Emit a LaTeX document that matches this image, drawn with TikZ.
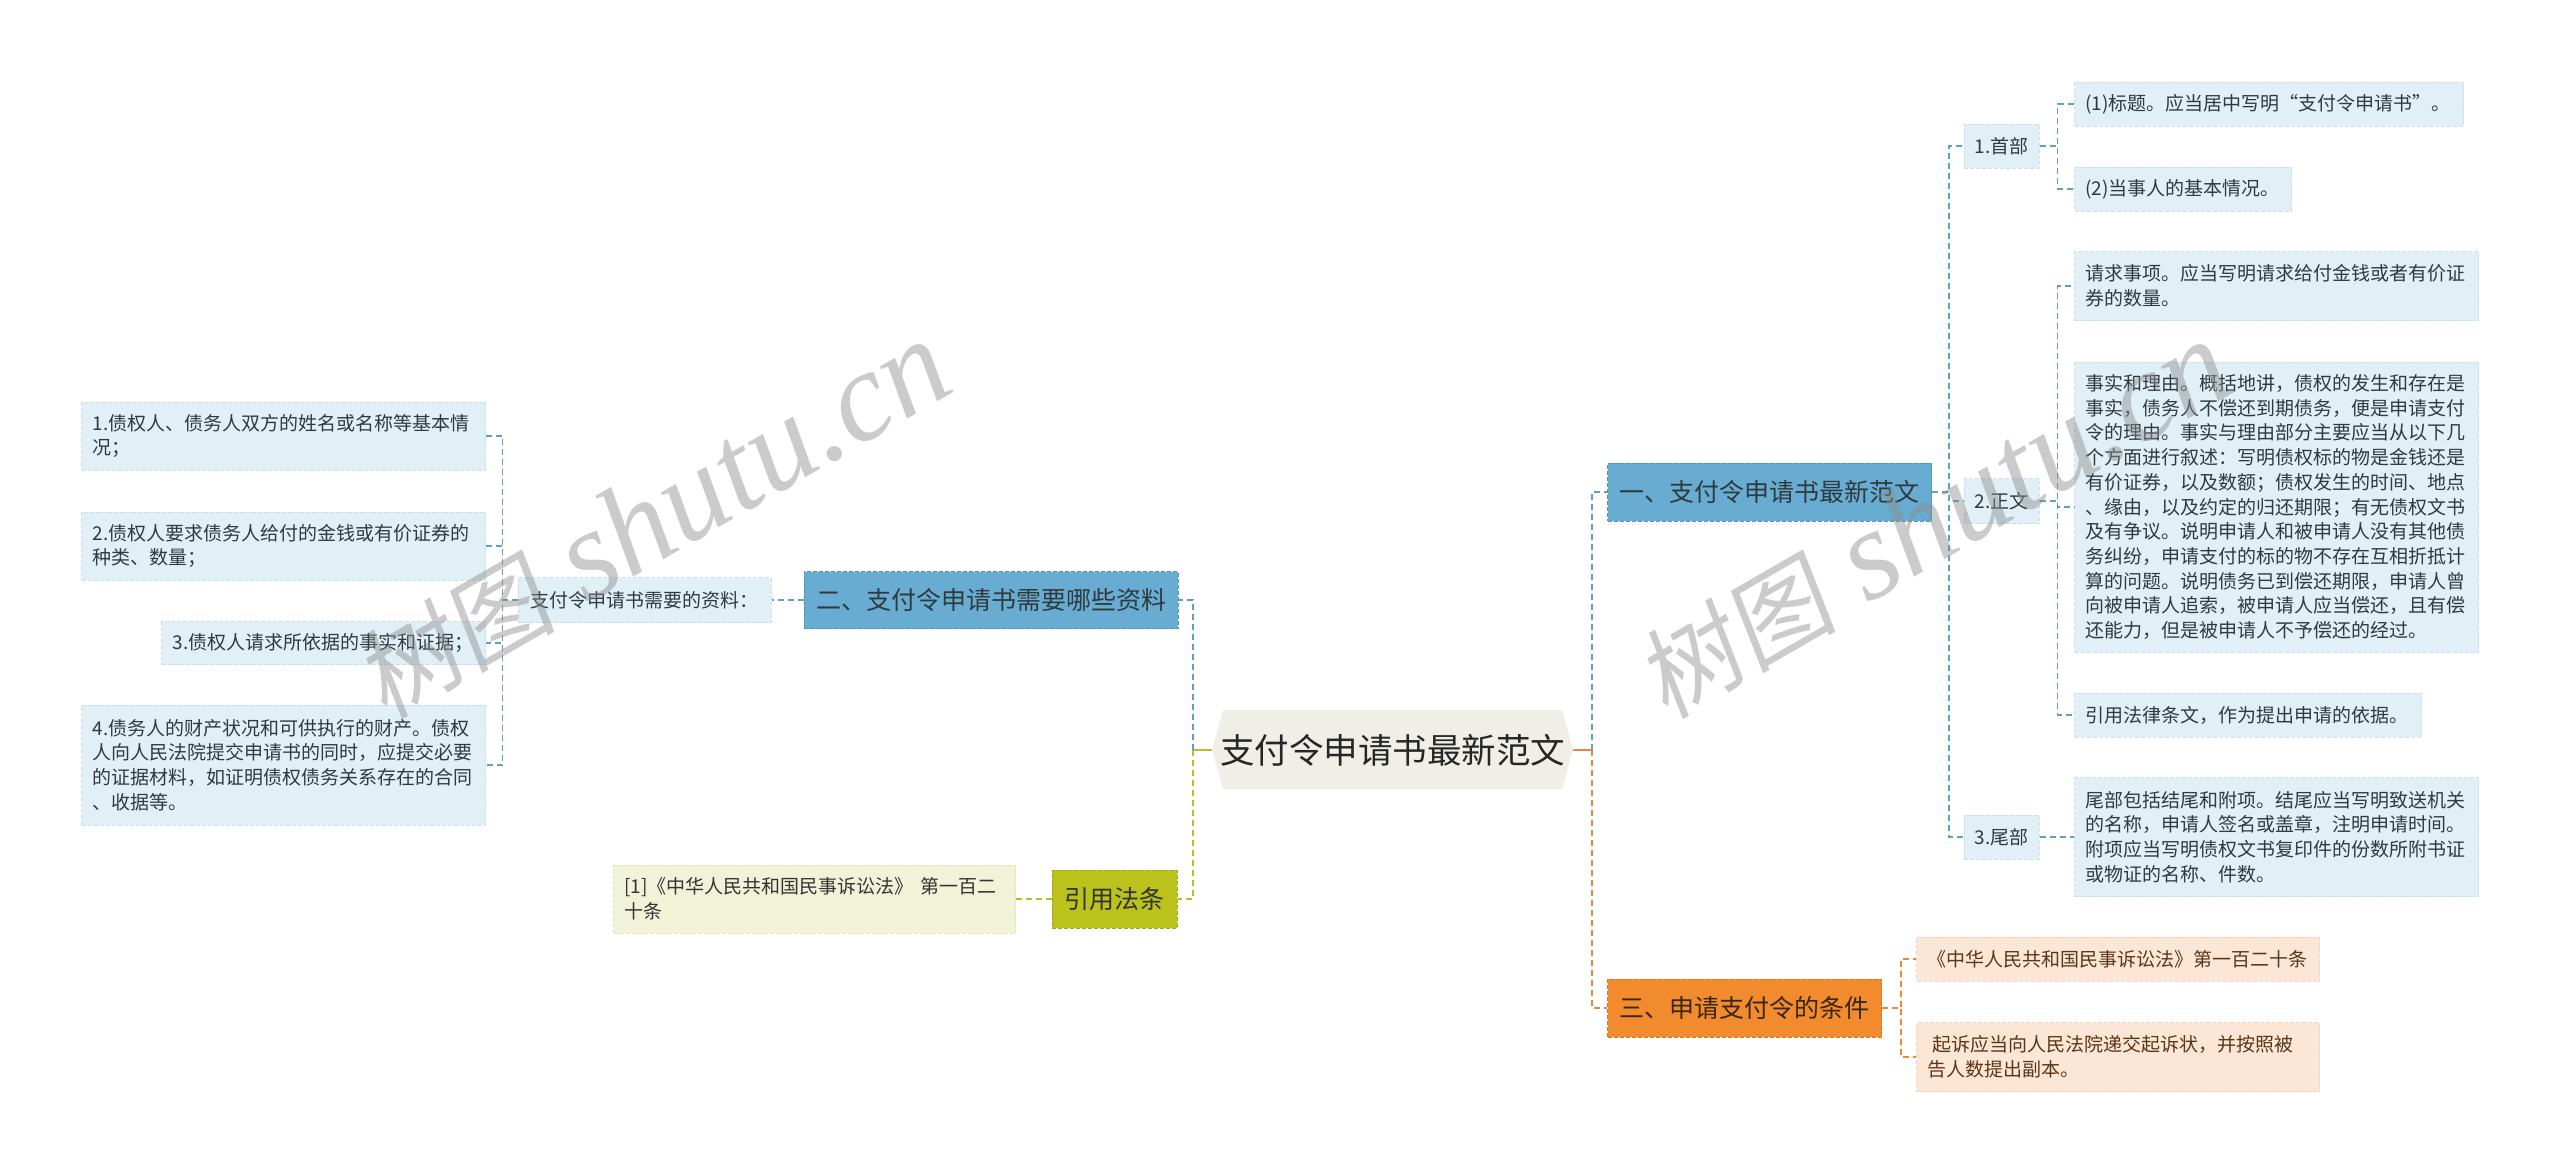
\documentclass[tikz,border=0pt]{standalone}
\usepackage{fontspec}
\newfontfamily\cjk{Noto Sans CJK SC}
\newfontfamily\wmcjk{Noto Sans CJK SC}[FakeSlant=0.15]
\newfontfamily\wmlat{Liberation Serif}
\usetikzlibrary{calc}
\definecolor{leafblue}{HTML}{E1EFF7}
\definecolor{leafbd}{HTML}{CADFEC}
\definecolor{mainblue}{HTML}{68ADD1}
\definecolor{mainbluebd}{HTML}{4F93B8}
\definecolor{lineblue}{HTML}{5E9FC4}
\definecolor{olivemain}{HTML}{BCC21C}
\definecolor{olivebd}{HTML}{A3A90F}
\definecolor{lineolive}{HTML}{B4C024}
\definecolor{lightolive}{HTML}{F1F2D7}
\definecolor{lightolivebd}{HTML}{E2E4BC}
\definecolor{orangemain}{HTML}{F28B2E}
\definecolor{orangebd}{HTML}{D9761E}
\definecolor{lineorange}{HTML}{E8883A}
\definecolor{peach}{HTML}{FCE6D6}
\definecolor{peachbd}{HTML}{F3D3BC}
\definecolor{rootfill}{HTML}{EFEFE8}
\definecolor{txtdark}{HTML}{2E3A40}
\definecolor{txtbrown}{HTML}{5A3618}
\definecolor{txtorange}{HTML}{3A2614}
\definecolor{wmgray}{HTML}{8C8C8C}
\tikzset{
  box/.style={draw, line width=1pt, dash pattern=on 4pt off 2pt, inner ysep=0pt},
  leaf/.style={box, fill=leafblue, draw=leafbd, font=\cjk\fontsize{19}{24.7}\selectfont, text=txtdark, inner xsep=11pt, align=left},
  subbox/.style={box, fill=leafblue, draw=leafbd, font=\cjk\fontsize{19}{24.7}\selectfont, text=txtdark, inner xsep=4pt, align=center},
  mainbox/.style={box, fill=mainblue, draw=mainbluebd, font=\cjk\fontsize{25}{30}\selectfont, text=txtdark, inner xsep=12pt, align=center},
  olivebox/.style={mainbox, fill=olivemain, draw=olivebd, text=black!80},
  orangebox/.style={mainbox, fill=orangemain, draw=orangebd, text=txtorange},
  peachleaf/.style={leaf, fill=peach, draw=peachbd, text=txtbrown},
  oliveleaf/.style={leaf, fill=lightolive, draw=lightolivebd, text=black!80},
  conn/.style={line width=1.8pt, dash pattern=on 6pt off 4pt},
  stub/.style={line width=2.2pt},
  wm/.style={rotate=30, text=wmgray, text opacity=0.45, font=\wmlat\itshape\fontsize{128}{128}\selectfont, inner sep=0pt}
}
\begin{document}
\begin{tikzpicture}[x=1pt,y=-1pt]
\fill[white] (0,0) rectangle (2560,1173);
\useasboundingbox (0,0) rectangle (2560,1173);

% root
\fill[rootfill] (1212,750) -- (1223,710) -- (1562,710) -- (1573,750) -- (1562,789) -- (1223,789) -- cycle;
\node[inner sep=0pt, minimum width=361pt, minimum height=79pt, font=\cjk\fontsize{34.5}{40}\selectfont, text=black!85] (root) at (1392.5,750) {支付令申请书最新范文};

% main branches
\node[mainbox, minimum width=321pt, minimum height=58pt] (b1) at (1769.5,492) {一、支付令申请书最新范文};
\node[mainbox, minimum width=372pt, minimum height=57pt] (b2) at (991,600) {二、支付令申请书需要哪些资料};
\node[olivebox, minimum width=125pt, minimum height=58pt] (b3) at (1114.5,899) {引用法条};
\node[orangebox, minimum width=271pt, minimum height=58pt] (b4) at (1744.5,1008) {三、申请支付令的条件};

% right sub-branches
\node[subbox, minimum width=75pt, minimum height=44pt] (s1) at (2001.5,146) {1.首部};
\node[subbox, minimum width=75pt, minimum height=45pt] (s2) at (2001.5,501) {2.正文};
\node[subbox, minimum width=75pt, minimum height=44pt] (s3) at (2001.5,837) {3.尾部};

\node[leaf, anchor=west, text width=367pt, minimum height=44pt] (l11) at (2074,104) {(1)标题。应当居中写明“支付令申请书”。};
\node[leaf, anchor=west, text width=195pt, minimum height=44pt] (l12) at (2074,189) {(2)当事人的基本情况。};
\node[leaf, anchor=west, text width=382pt, minimum height=69pt] (l21) at (2074,286) {请求事项。应当写明请求给付金钱或者有价证\\券的数量。};
\node[leaf, anchor=west, text width=382pt, minimum height=290pt] (l22) at (2074,507) {事实和理由。概括地讲，债权的发生和存在是\\事实，债务人不偿还到期债务，便是申请支付\\令的理由。事实与理由部分主要应当从以下几\\个方面进行叙述：写明债权标的物是金钱还是\\有价证券，以及数额；债权发生的时间、地点\\、缘由，以及约定的归还期限；有无债权文书\\及有争议。说明申请人和被申请人没有其他债\\务纠纷，申请支付的标的物不存在互相折抵计\\算的问题。说明债务已到偿还期限，申请人曾\\向被申请人追索，被申请人应当偿还，且有偿\\还能力，但是被申请人不予偿还的经过。};
\node[leaf, anchor=west, text width=325pt, minimum height=44pt] (l23) at (2074,715) {引用法律条文，作为提出申请的依据。};
\node[leaf, anchor=west, text width=382pt, minimum height=119pt] (l31) at (2074,837) {尾部包括结尾和附项。结尾应当写明致送机关\\的名称，申请人签名或盖章，注明申请时间。\\附项应当写明债权文书复印件的份数所附书证\\或物证的名称、件数。};

\node[peachleaf, anchor=west, text width=381pt, minimum height=44pt] (l41) at (1916,959) {《中华人民共和国民事诉讼法》第一百二十条};
\node[peachleaf, anchor=west, text width=381pt, minimum height=69pt] (l42) at (1916,1057) {\hspace*{5pt}起诉应当向人民法院递交起诉状，并按照被\\告人数提出副本。};

% left side
\node[leaf, align=center, inner xsep=4pt, minimum width=253pt, minimum height=45pt] (m21) at (644.5,600) {支付令申请书需要的资料：};
\node[leaf, anchor=east, text width=382pt, minimum height=68pt] (n1) at (486,436) {1.债权人、债务人双方的姓名或名称等基本情\\况；};
\node[leaf, anchor=east, text width=382pt, minimum height=68pt] (n2) at (486,546) {2.债权人要求债务人给付的金钱或有价证券的\\种类、数量；};
\node[leaf, anchor=east, text width=302pt, minimum height=43pt] (n3) at (486,643) {3.债权人请求所依据的事实和证据；};
\node[leaf, anchor=east, text width=382pt, minimum height=120pt] (n4) at (486,765) {4.债务人的财产状况和可供执行的财产。债权\\人向人民法院提交申请书的同时，应提交必要\\的证据材料，如证明债权债务关系存在的合同\\、收据等。};
\node[oliveleaf, anchor=east, text width=380pt, minimum height=68pt] (c1) at (1016,899) {[1]《中华人民共和国民事诉讼法》 第一百二\\十条};

% junctions
\coordinate (jl) at (1193,750);
\coordinate (jr) at (1592,750);

% connectors
\draw[stub, lineolive] (root.west) -- (jl);
\draw[stub, lineorange] (root.east) -- (jr);
\draw[conn, lineblue] (jl) |- (b2.east);
\draw[conn, lineolive] (jl) |- (b3.east);
\draw[conn, lineblue] (jr) |- (b1.west);
\draw[conn, lineorange] (jr) |- (b4.west);

\draw[conn, lineblue] (b1.east) -- ++(17,0) |- (s1.west);
\draw[conn, lineblue] (b1.east) -- ++(17,0) |- (s2.west);
\draw[conn, lineblue] (b1.east) -- ++(17,0) |- (s3.west);
\draw[conn, lineblue] (s1.east) -- ++(18,0) |- (l11.west);
\draw[conn, lineblue] (s1.east) -- ++(18,0) |- (l12.west);
\draw[conn, lineblue] (s2.east) -- ++(18,0) |- (l21.west);
\draw[conn, lineblue] (s2.east) -- ++(18,0) |- (l22.west);
\draw[conn, lineblue] (s2.east) -- ++(18,0) |- (l23.west);
\draw[conn, lineblue] (s3.east) -- (l31.west);

\draw[conn, lineorange] (b4.east) -- ++(19,0) |- (l41.west);
\draw[conn, lineorange] (b4.east) -- ++(19,0) |- (l42.west);

\draw[conn, lineblue] (b2.west) -- (m21.east);
\draw[conn, lineblue] (m21.west) -- ++(-15,0) |- (n1.east);
\draw[conn, lineblue] (m21.west) -- ++(-15,0) |- (n2.east);
\draw[conn, lineblue] (m21.west) -- ++(-15,0) |- (n3.east);
\draw[conn, lineblue] (m21.west) -- ++(-15,0) |- (n4.east);
\draw[conn, lineolive] (b3.west) -- (c1.east);

% watermarks
\node[wm] (wm1) at (652,520) {{\wmcjk\fontsize{100}{100}\selectfont 树图} shutu.cn};
\node[wm] (wm2) at (1933,520) {{\wmcjk\fontsize{100}{100}\selectfont 树图} shutu.cn};
\end{tikzpicture}
\end{document}
